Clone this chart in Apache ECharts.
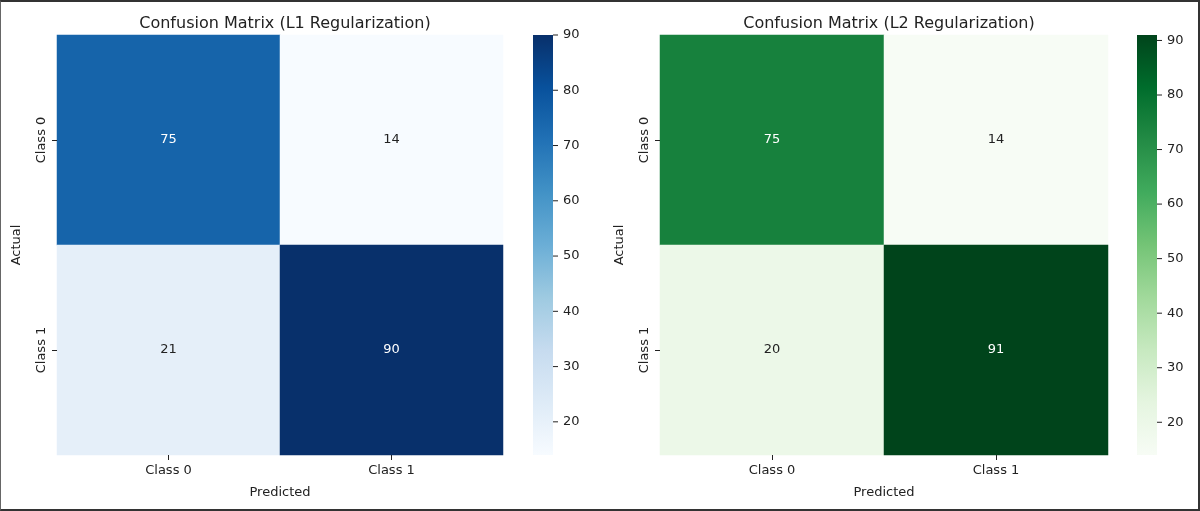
<!DOCTYPE html>
<html><head><meta charset="utf-8">
<script src="https://cdn.jsdelivr.net/npm/echarts@6/dist/echarts.min.js"></script>
<style>html,body{margin:0;padding:0;background:#fff}#c{width:1200px;height:511px;box-sizing:border-box;border:2px solid #333;border-left:1px solid #666}</style>
</head><body><div id="c"></div>
<script>
const classes=['Class 0','Class 1'];
const l1Values=[[0,0,75],[1,0,14],[0,1,21],[1,1,90]];
const l2Values=[[0,0,75],[1,0,14],[0,1,20],[1,1,91]];
const cbTicks=[20,30,40,50,60,70,80,90];
const blues=['#f7fbff','#deebf7','#c6dbef','#9ecae1','#6baed6','#4292c6','#2171b5','#08519c','#08306b'];
const greens=['#f7fcf5','#e5f5e0','#c7e9c0','#a1d99b','#74c476','#41ab5d','#238b45','#006d2c','#00441b'];
const ranges=[[14,90],[14,91]];
const F='DejaVu Sans';
const chart=echarts.init(document.getElementById('c'));
const grids=[{left:56,top:33,width:446,height:420},{left:659,top:33,width:448,height:420},
 {left:532,top:33,width:20,height:420},{left:1136,top:33,width:20,height:420}];
function grad(c){return new echarts.graphic.LinearGradient(0,1,0,0,c.map((col,i)=>({offset:i/(c.length-1),color:col})));}
const xAxis=[],yAxis=[],series=[];
[0,1].forEach(k=>{
 xAxis.push({type:'category',gridIndex:k,data:classes,name:'Predicted',nameLocation:'middle',nameGap:31,z:10,
  nameTextStyle:{fontFamily:F,fontSize:13,color:'#222'},axisLine:{show:false},axisTick:{show:true,alignWithLabel:true,length:5,lineStyle:{color:'#222'}},
  axisLabel:{fontFamily:F,fontSize:13,color:'#222',margin:9},splitArea:{show:false}});
 yAxis.push({type:'category',gridIndex:k,data:classes,inverse:true,name:'Actual',nameLocation:'middle',nameGap:34,z:10,
  nameTextStyle:{fontFamily:F,fontSize:13,color:'#222'},axisLine:{show:false},axisTick:{show:true,alignWithLabel:true,length:5,lineStyle:{color:'#222'}},
  axisLabel:{fontFamily:F,fontSize:13,color:'#222',rotate:90,margin:9}});
});
[0,1].forEach(k=>{
 xAxis.push({type:'value',gridIndex:2+k,min:0,max:1,show:false});
 yAxis.push({type:'value',gridIndex:2+k,min:ranges[k][0],max:ranges[k][1],position:'right',
  axisLine:{show:false},splitLine:{show:false},axisTick:{show:false},
  axisLabel:{fontFamily:F,fontSize:13,color:'#222',margin:10,customValues:cbTicks}});
});
const data=[l1Values,l2Values];
[0,1].forEach(k=>{
 series.push({type:'heatmap',xAxisIndex:k,yAxisIndex:k,
  data:data[k].map(v=>({value:v,label:{color:v[2]>60?'#fff':'#222'}})),
  itemStyle:{borderWidth:0},
  label:{show:true,fontFamily:F,fontSize:13,formatter:p=>p.value[2]}});
 series.push({type:'custom',xAxisIndex:2+k,yAxisIndex:2+k,data:[[0]],silent:true,
  renderItem:(params,api)=>{const a=api.coord([0,ranges[k][1]]),b=api.coord([1,ranges[k][0]]);
   return {type:'rect',shape:{x:a[0],y:a[1],width:b[0]-a[0],height:b[1]-a[1]},style:{fill:grad(k?greens:blues)}};}});
 series.push({type:'custom',xAxisIndex:2+k,yAxisIndex:2+k,data:cbTicks.map(t=>[1,t]),silent:true,
  renderItem:(params,api)=>{const p=api.coord([1,api.value(1)]);
   return {type:'line',shape:{x1:p[0],y1:p[1],x2:p[0]+5,y2:p[1]},style:{stroke:'#222',lineWidth:1}};}});
});
chart.setOption({animation:false,
 title:[{text:'Confusion Matrix (L1 Regularization)',left:279,top:9,textAlign:'center',textStyle:{fontFamily:F,fontSize:16,fontWeight:'normal',color:'#222'}},
  {text:'Confusion Matrix (L2 Regularization)',left:883,top:9,textAlign:'center',textStyle:{fontFamily:F,fontSize:16,fontWeight:'normal',color:'#222'}}],
 grid:grids,xAxis,yAxis,
 visualMap:[{show:false,seriesIndex:0,min:14,max:90,inRange:{color:blues}},{show:false,seriesIndex:3,min:14,max:91,inRange:{color:greens}}],
 series});
</script></body></html>
